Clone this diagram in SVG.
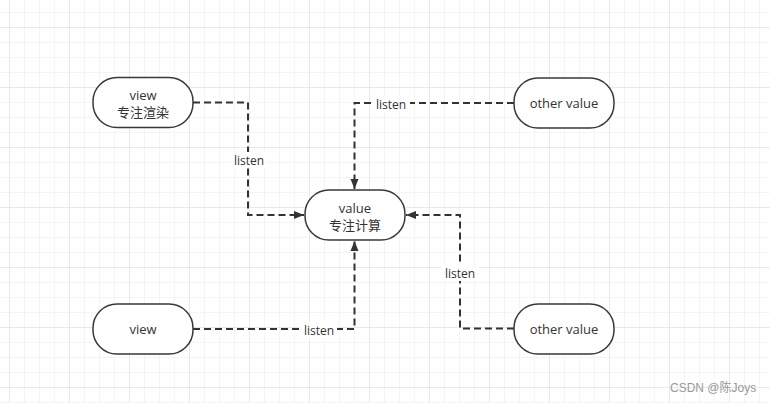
<svg xmlns="http://www.w3.org/2000/svg" width="770" height="403" viewBox="0 0 770 403">
<defs>
<pattern id="gs" x="9" y="12" width="15" height="15" patternUnits="userSpaceOnUse">
<path d="M0 0V15M0 0H15" fill="none" stroke="#ececec" stroke-width="1"/>
</pattern>
<pattern id="gl" x="9" y="27" width="60" height="60" patternUnits="userSpaceOnUse">
<path d="M0 0V60M0 0H60" fill="none" stroke="#dedede" stroke-width="1"/>
</pattern>
<marker id="arr" viewBox="0 0 10 10" refX="10" refY="5" markerWidth="10" markerHeight="10" markerUnits="userSpaceOnUse" orient="auto">
<path d="M0 1L10 5L0 9Z" fill="#333"/>
</marker>
<style>
.node rect{fill:#fff;stroke:#36393d;stroke-width:1.5}
.node text{font-family:"Open Sans","Noto Sans CJK SC",sans-serif;font-size:13px;fill:#333;text-anchor:middle}
.conn path{fill:none;stroke:#333;stroke-width:2;stroke-dasharray:7 4}
.lbl rect{fill:#fff}
.lbl text{font-family:"Open Sans","Noto Sans CJK SC",sans-serif;font-size:12px;fill:#333;text-anchor:middle}
.wm{font-family:"Liberation Sans","Noto Sans CJK SC",sans-serif;font-size:12px;fill:#999}
</style>
</defs>
<rect width="770" height="403" fill="#fff"/>
<rect width="770" height="403" fill="url(#gs)"/>
<rect width="770" height="403" fill="url(#gl)"/>
<g id="connectors" class="conn">
<path d="M193 102.5H248V215H304" marker-end="url(#arr)"/>
<path d="M514 103H354.5V189" marker-end="url(#arr)"/>
<path d="M193 329H354.5V241" marker-end="url(#arr)"/>
<path d="M514 328.5H460V215H406" marker-end="url(#arr)"/>
</g>
<g id="labels" class="lbl">
<rect x="230" y="152" width="38" height="16"/><text x="249" y="164.5">listen</text>
<rect x="373" y="96" width="37" height="16"/><text x="391" y="108.5">listen</text>
<rect x="300" y="322" width="37" height="16"/><text x="319" y="334.5">listen</text>
<rect x="441" y="265" width="38" height="16"/><text x="460" y="277.5">listen</text>
</g>
<g id="node-view1" class="node">
<rect x="93" y="77.5" width="100" height="50" rx="24" ry="24"/>
<text x="143" y="100">view</text><text x="143" y="117">专注渲染</text>
</g>
<g id="node-value" class="node">
<rect x="305" y="190" width="100" height="50" rx="24" ry="24"/>
<text x="355" y="213">value</text><text x="355" y="230">专注计算</text>
</g>
<g id="node-other1" class="node">
<rect x="514" y="78" width="100" height="50" rx="24" ry="24"/>
<text x="564" y="107.5">other value</text>
</g>
<g id="node-view2" class="node">
<rect x="93" y="304" width="100" height="50" rx="24" ry="24"/>
<text x="143" y="333.5">view</text>
</g>
<g id="node-other2" class="node">
<rect x="514" y="304" width="100" height="50" rx="24" ry="24"/>
<text x="564" y="333.5">other value</text>
</g>
<text class="wm" x="670" y="392">CSDN @陈Joys</text>
</svg>
